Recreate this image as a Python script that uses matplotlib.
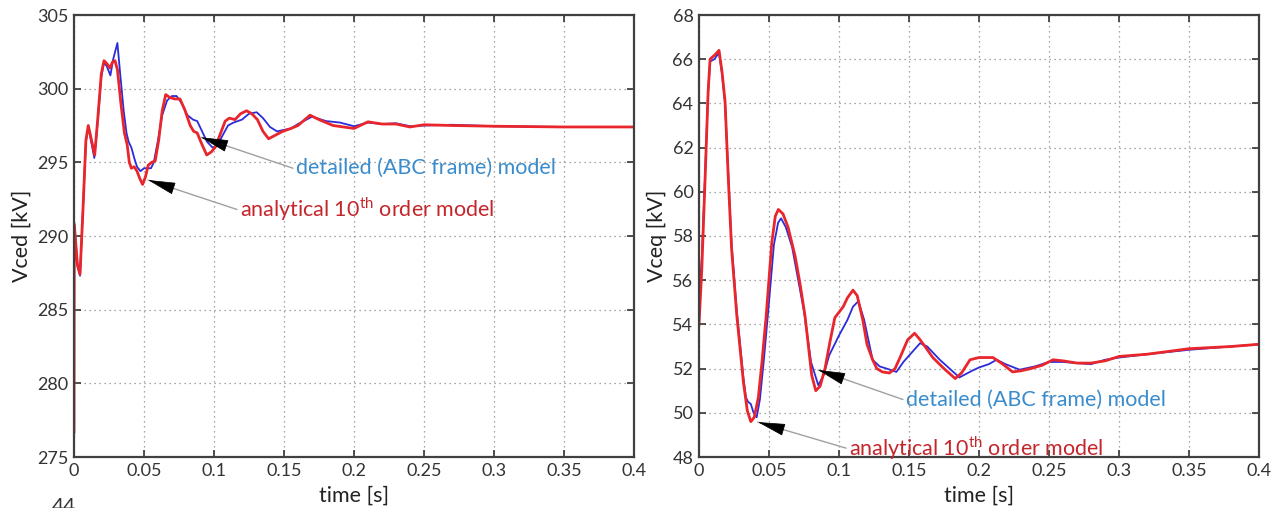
import matplotlib
matplotlib.use("Agg")
import matplotlib.pyplot as plt

plt.rcParams['font.family'] = ['Lato', 'DejaVu Sans']
plt.rcParams['mathtext.fontset'] = 'custom'
plt.rcParams['mathtext.rm'] = 'Lato'

# left panel: Vced [kV]
t_d_red = [0, 0.0002, 0.0025, 0.0043, 0.0065, 0.0085, 0.0102, 0.0125, 0.0148, 0.017,
           0.0195, 0.0214, 0.0235, 0.0257, 0.0275, 0.0293, 0.031, 0.0335, 0.036, 0.038,
           0.0395, 0.041, 0.043, 0.045, 0.047, 0.049, 0.051, 0.053, 0.0555, 0.058,
           0.0605, 0.063, 0.0655, 0.0685, 0.072, 0.0757, 0.079, 0.083, 0.0855, 0.088,
           0.091, 0.0948, 0.098, 0.1007, 0.104, 0.108, 0.111, 0.115, 0.119, 0.1233,
           0.127, 0.131, 0.135, 0.139, 0.143, 0.149, 0.155, 0.16, 0.1686, 0.175,
           0.185, 0.2, 0.21, 0.22, 0.23, 0.24, 0.25, 0.27, 0.3, 0.35, 0.4]
v_d_red = [276.7, 290.8, 288.0, 287.4, 292.0, 296.5, 297.5, 296.5, 295.5, 298.0,
           301.0, 301.9, 301.7, 301.4, 301.8, 301.9, 301.3, 299.0, 297.0, 296.2,
           295.0, 294.6, 294.7, 294.4, 293.9, 293.5, 294.0, 294.8, 295.0, 295.1,
           296.5, 298.5, 299.6, 299.4, 299.3, 299.3, 298.6, 297.5, 297.1, 297.0,
           296.3, 295.5, 295.7, 296.0, 296.8, 297.8, 298.0, 297.9, 298.3, 298.5,
           298.3, 297.9, 297.1, 296.6, 296.8, 297.1, 297.3, 297.5, 298.2, 297.9,
           297.5, 297.3, 297.75, 297.6, 297.6, 297.4, 297.55, 297.5, 297.45, 297.4, 297.4]

t_d_blue = [0, 0.0025, 0.0043, 0.0065, 0.0085, 0.0102, 0.0125, 0.0145, 0.017, 0.0195,
            0.0215, 0.0235, 0.026, 0.028, 0.031, 0.033, 0.0355, 0.0375, 0.039, 0.041,
            0.043, 0.045, 0.0475, 0.05, 0.053, 0.055, 0.057, 0.06, 0.063, 0.0665,
            0.07, 0.0733, 0.077, 0.081, 0.085, 0.088, 0.091, 0.095, 0.099, 0.102,
            0.106, 0.11, 0.114, 0.12, 0.125, 0.1305, 0.135, 0.14, 0.145, 0.15,
            0.155, 0.16, 0.17, 0.18, 0.19, 0.2, 0.21, 0.22, 0.23, 0.24,
            0.25, 0.27, 0.3, 0.35, 0.4]
v_d_blue = [291.1, 288.0, 287.3, 292.0, 296.4, 297.4, 296.3, 295.3, 297.8, 300.8,
            301.8, 301.5, 300.9, 302.0, 303.1, 301.0, 298.5, 297.0, 296.4, 296.0,
            295.3, 294.7, 294.4, 294.6, 294.6, 294.6, 295.0, 296.5, 298.2, 299.2,
            299.5, 299.5, 299.0, 298.2, 297.9, 297.8, 297.2, 296.4, 296.0, 296.1,
            296.8, 297.5, 297.7, 297.9, 298.3, 298.4, 298.0, 297.4, 297.1, 297.2,
            297.3, 297.6, 298.1, 297.8, 297.7, 297.45, 297.7, 297.6, 297.65, 297.45,
            297.5, 297.55, 297.45, 297.4, 297.4]

# right panel: Vceq [kV]
t_q_red = [0, 0.002, 0.0043, 0.0065, 0.0079, 0.0114, 0.0143, 0.0165, 0.0186, 0.021,
           0.0233, 0.027, 0.0317, 0.0345, 0.037, 0.0395, 0.0424, 0.045, 0.048, 0.052,
           0.0545, 0.0567, 0.06, 0.0636, 0.0686, 0.072, 0.0757, 0.0805, 0.0834, 0.0865,
           0.09, 0.0935, 0.097, 0.103, 0.106, 0.11, 0.113, 0.117, 0.12, 0.124,
           0.127, 0.131, 0.136, 0.14, 0.1436, 0.149, 0.154, 0.158, 0.162, 0.167,
           0.175, 0.183, 0.1875, 0.1936, 0.2, 0.21, 0.217, 0.224, 0.23, 0.237,
           0.245, 0.253, 0.26, 0.27, 0.28, 0.29, 0.3, 0.32, 0.35, 0.38, 0.4]
v_q_red = [54.0, 56.5, 60.5, 64.5, 66.0, 66.2, 66.4, 65.4, 64.1, 60.5,
           57.4, 54.4, 51.4, 50.1, 49.6, 49.8, 50.7, 52.3, 54.4, 57.7,
           58.9, 59.2, 59.0, 58.4, 57.1, 55.9, 54.4, 51.7, 51.0, 51.2,
           52.0, 53.2, 54.3, 54.8, 55.2, 55.55, 55.3, 54.2, 53.1, 52.4,
           52.0, 51.85, 51.8, 52.0, 52.5, 53.3, 53.6, 53.3, 52.95, 52.5,
           52.0, 51.55, 51.8, 52.4, 52.5, 52.5, 52.2, 51.85, 51.9, 52.0,
           52.15, 52.4, 52.35, 52.25, 52.25, 52.35, 52.55, 52.65, 52.9, 53.0, 53.1]

t_q_blue = [0, 0.002, 0.0043, 0.0065, 0.008, 0.011, 0.0143, 0.0165, 0.0186, 0.021,
            0.0233, 0.027, 0.0317, 0.0335, 0.035, 0.037, 0.039, 0.0412, 0.0435, 0.0465,
            0.05, 0.0535, 0.0565, 0.0586, 0.062, 0.0665, 0.07, 0.075, 0.08, 0.0852,
            0.089, 0.093, 0.1, 0.106, 0.11, 0.1138, 0.118, 0.124, 0.129, 0.134,
            0.141, 0.146, 0.1579, 0.163, 0.172, 0.179, 0.186, 0.195, 0.2, 0.207,
            0.2126, 0.219, 0.229, 0.24, 0.25, 0.26, 0.27, 0.28, 0.29, 0.3,
            0.32, 0.35, 0.38, 0.4]
v_q_blue = [55.0, 57.0, 60.7, 64.5, 65.9, 66.0, 66.3, 65.3, 64.0, 60.7,
            57.6, 54.6, 51.6, 50.7, 50.5, 50.4, 50.0, 49.8, 50.6, 52.5,
            55.0, 57.6, 58.6, 58.8, 58.4, 57.5, 56.3, 54.6, 52.3, 51.25,
            51.7, 52.6, 53.5, 54.2, 54.8, 55.05, 54.2, 52.4, 52.1, 52.0,
            51.85, 52.3, 53.15, 53.0, 52.4, 52.0, 51.6, 51.9, 52.05, 52.2,
            52.4, 52.2, 51.95, 52.1, 52.3, 52.3, 52.25, 52.2, 52.4, 52.5,
            52.65, 52.85, 53.0, 53.1]

x_ticks = [0, 0.05, 0.1, 0.15, 0.2, 0.25, 0.3, 0.35, 0.4]
x_labels = ['0', '0.05', '0.1', '0.15', '0.2', '0.25', '0.3', '0.35', '0.4']
d_ticks = [275, 280, 285, 290, 295, 300, 305]
q_ticks = [48, 50, 52, 54, 56, 58, 60, 62, 64, 66, 68]

label_blue = 'detailed (ABC frame) model'
label_red = 'analytical 10$^{\\mathrm{th}}$ order model'

BLUE = '#2b2bdb'
RED = '#e8262c'
TXT_BLUE = '#3a8ccc'
TXT_RED = '#c4262c'


def pointer(ax, text, color, tip, start, fs=15.5):
    # grey leader line with a small black head, MATLAB-ish
    ax.annotate('', xy=tip, xytext=start,
                arrowprops=dict(arrowstyle='-', color='#a0a0a0', lw=1.0,
                                shrinkA=0, shrinkB=0))
    dx = (start[0] - tip[0]) * 0.13
    dy = (start[1] - tip[1]) * 0.13
    ax.annotate('', xy=tip, xytext=(tip[0] + dx, tip[1] + dy),
                arrowprops=dict(arrowstyle='-|>,head_length=1.0,head_width=0.22',
                                color='black', lw=0.5, shrinkA=0, shrinkB=0,
                                mutation_scale=18))
    ax.text(start[0] + 0.002, start[1], text, color=color, fontsize=fs,
            ha='left', va='center')


def style(ax, yticks, ylab):
    ax.set_xlim(0, 0.4)
    ax.set_ylim(yticks[0], yticks[-1])
    ax.set_xticks(x_ticks)
    ax.set_xticklabels(x_labels)
    ax.set_yticks(yticks)
    ax.grid(True, linestyle=(0, (1, 3)), color='#8a8a8a', lw=0.9)
    ax.tick_params(direction='in', top=True, right=True, length=5, width=1.2,
                   labelsize=13, colors='#333333', pad=4)
    for s in ax.spines.values():
        s.set_color('#404040')
        s.set_linewidth(1.6)
    ax.set_xlabel('time [s]', fontsize=15.5, color='#222222', labelpad=5)
    ax.set_ylabel(ylab, fontsize=15.5, color='#222222', labelpad=4)


fig = plt.figure(figsize=(12.72, 5.08), dpi=100)
ax1 = fig.add_axes([74 / 1272, 51 / 508, 560 / 1272, 442 / 508])
ax2 = fig.add_axes([699 / 1272, 51 / 508, 560 / 1272, 442 / 508])

ax1.plot(t_d_blue, v_d_blue, color=BLUE, lw=1.3)
ax1.plot(t_d_red, v_d_red, color=RED, lw=2.0)
style(ax1, d_ticks, 'Vced [kV]')
pointer(ax1, label_blue, TXT_BLUE, (0.0907, 296.7), (0.1564, 294.6))
pointer(ax1, label_red, TXT_RED, (0.0529, 293.8), (0.1164, 291.8))

ax2.plot(t_q_blue, v_q_blue, color=BLUE, lw=1.3)
ax2.plot(t_q_red, v_q_red, color=RED, lw=2.0)
style(ax2, q_ticks, 'Vceq [kV]')
pointer(ax2, label_blue, TXT_BLUE, (0.085, 51.94), (0.1457, 50.6))
pointer(ax2, label_red, TXT_RED, (0.042, 49.58), (0.1051, 48.4))

fig.text(52 / 1272, 11 / 508, '44', fontsize=15, color='#333333', va='top')

fig.savefig('out.png', dpi=100)
